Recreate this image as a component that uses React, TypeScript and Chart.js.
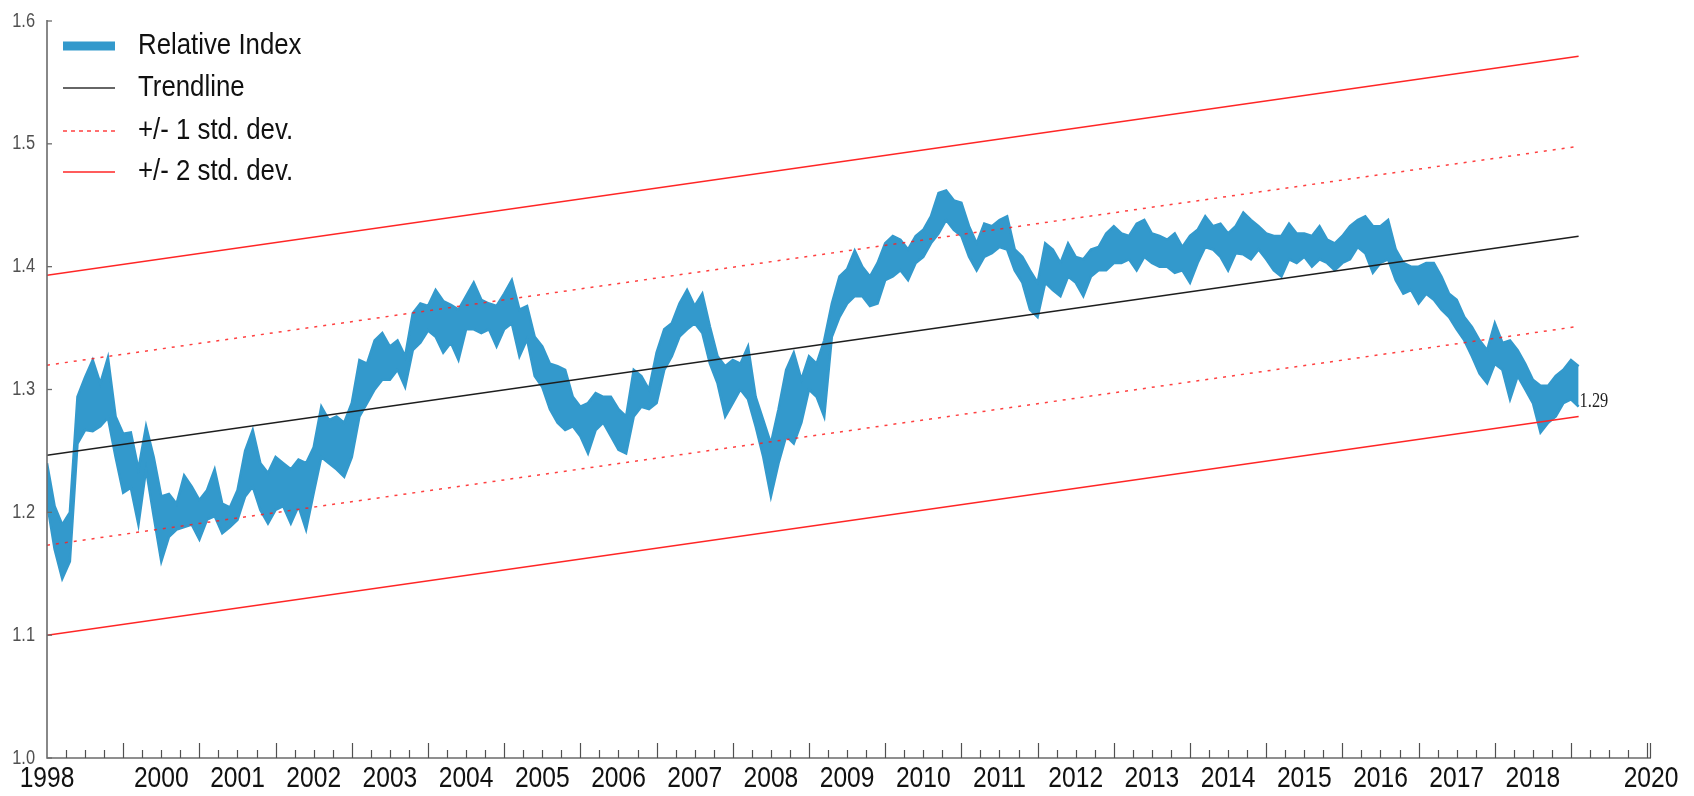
import React, { useEffect, useRef } from 'react';
import { Chart, registerables } from 'chart.js';

Chart.register(...registerables);

// ---- DATA ----
const START_YEAR = 1999;
const STEP_YEARS = 0.1;

// upper and lower envelope of the (daily, noisy) Relative Index band
const REL_HIGH = [
  1.240, 1.205, 1.190, 1.200, 1.294, 1.310, 1.324, 1.305, 1.326, 1.278,
  1.264, 1.265, 1.235, 1.270, 1.245, 1.213, 1.215, 1.207, 1.230, 1.221,
  1.210, 1.218, 1.235, 1.207, 1.204, 1.218, 1.250, 1.267, 1.240, 1.232,
  1.245, 1.240, 1.235, 1.243, 1.240, 1.253, 1.286, 1.275, 1.278, 1.273,
  1.289, 1.324, 1.321, 1.340, 1.346, 1.335, 1.340, 1.327, 1.362, 1.370,
  1.368, 1.381, 1.372, 1.369, 1.365, 1.376, 1.387, 1.373, 1.370, 1.368,
  1.378, 1.389, 1.365, 1.368, 1.343, 1.335, 1.321, 1.319, 1.316, 1.294,
  1.286, 1.289, 1.297, 1.294, 1.294, 1.284, 1.278, 1.316, 1.311, 1.300,
  1.330, 1.349, 1.354, 1.370, 1.381, 1.368, 1.378, 1.351, 1.327, 1.319,
  1.324, 1.321, 1.335, 1.294, 1.275, 1.256, 1.284, 1.316, 1.330, 1.308,
  1.327, 1.321, 1.340, 1.370, 1.392, 1.398, 1.413, 1.400, 1.392, 1.403,
  1.419, 1.425, 1.422, 1.414, 1.425, 1.430, 1.441, 1.460, 1.462, 1.454,
  1.452, 1.433, 1.419, 1.435, 1.433, 1.438, 1.441, 1.414, 1.408, 1.397,
  1.387, 1.419, 1.414, 1.403, 1.419, 1.408, 1.406, 1.414, 1.416, 1.427,
  1.433, 1.427, 1.425, 1.435, 1.438, 1.427, 1.425, 1.422, 1.427, 1.416,
  1.425, 1.430, 1.441, 1.433, 1.435, 1.427, 1.433, 1.444, 1.438, 1.433,
  1.427, 1.425, 1.425, 1.435, 1.427, 1.427, 1.425, 1.433, 1.422, 1.419,
  1.425, 1.433, 1.438, 1.441, 1.433, 1.433, 1.438, 1.414, 1.403, 1.400,
  1.400, 1.403, 1.403, 1.392, 1.378, 1.373, 1.359, 1.351, 1.340, 1.332,
  1.354, 1.338, 1.340, 1.332, 1.321, 1.308, 1.303, 1.303, 1.311, 1.316,
  1.324, 1.319,
];
const REL_LOW = [
  1.208, 1.170, 1.146, 1.160, 1.256, 1.267, 1.266, 1.270, 1.277, 1.245,
  1.216, 1.220, 1.190, 1.235, 1.197, 1.160, 1.180, 1.186, 1.188, 1.190,
  1.178, 1.194, 1.197, 1.183, 1.188, 1.194, 1.213, 1.221, 1.202, 1.191,
  1.202, 1.205, 1.191, 1.205, 1.186, 1.216, 1.245, 1.240, 1.235, 1.229,
  1.245, 1.278, 1.289, 1.300, 1.308, 1.308, 1.316, 1.302, 1.332, 1.338,
  1.348, 1.343, 1.330, 1.338, 1.324, 1.349, 1.349, 1.346, 1.349, 1.335,
  1.349, 1.354, 1.327, 1.341, 1.311, 1.302, 1.284, 1.273, 1.267, 1.270,
  1.262, 1.248, 1.267, 1.273, 1.262, 1.251, 1.248, 1.278, 1.286, 1.284,
  1.289, 1.316, 1.327, 1.343, 1.349, 1.354, 1.346, 1.321, 1.305, 1.278,
  1.289, 1.300, 1.292, 1.270, 1.245, 1.213, 1.240, 1.262, 1.256, 1.273,
  1.300, 1.294, 1.278, 1.343, 1.359, 1.370, 1.376, 1.376, 1.368, 1.370,
  1.389, 1.392, 1.397, 1.389, 1.403, 1.408, 1.419, 1.427, 1.438, 1.430,
  1.425, 1.408, 1.397, 1.408, 1.411, 1.416, 1.414, 1.397, 1.387, 1.365,
  1.359, 1.387, 1.381, 1.376, 1.392, 1.387, 1.376, 1.392, 1.397, 1.397,
  1.403, 1.403, 1.406, 1.397, 1.408, 1.403, 1.400, 1.400, 1.395, 1.397,
  1.387, 1.403, 1.416, 1.414, 1.408, 1.397, 1.411, 1.410, 1.406, 1.414,
  1.406, 1.397, 1.392, 1.406, 1.403, 1.408, 1.400, 1.406, 1.403, 1.397,
  1.403, 1.406, 1.416, 1.411, 1.395, 1.403, 1.406, 1.389, 1.378, 1.381,
  1.370, 1.378, 1.373, 1.365, 1.359, 1.349, 1.340, 1.327, 1.313, 1.305,
  1.321, 1.316, 1.292, 1.311, 1.300, 1.289, 1.265, 1.273, 1.278, 1.289,
  1.292, 1.286,
];

const TREND_X = [1999.0, 2019.1];
const TRENDLINE = [1.2465, 1.4247];
const PLUS_1SD = [1.3198, 1.498];
const MINUS_1SD = [1.1732, 1.3514];
const PLUS_2SD = [1.3931, 1.5713];
const MINUS_2SD = [1.0999, 1.2781];

const LAST_VALUE = 1.29;
const LAST_LABEL = '1.29';

const Y_TICKS = [1.0, 1.1, 1.2, 1.3, 1.4, 1.5, 1.6];
const Y_TICK_LABELS = ['1.0', '1.1', '1.2', '1.3', '1.4', '1.5', '1.6'];
const MID_YEAR_LABELS = [
  '2000', '2001', '2002', '2003', '2004', '2005', '2006', '2007', '2008', '2009',
  '2010', '2011', '2012', '2013', '2014', '2015', '2016', '2017', '2018',
];
const START_LABEL = '1998';
const END_LABEL = '2020';
const X_MIN = 1999.0;
const X_MAX = 2020.05;

const LEGEND_LABELS = ['Relative Index', 'Trendline', '+/- 1 std. dev.', '+/- 2 std. dev.'];

// ---- STYLE ----
const BLUE = '#3399cc';
const RED = '#ff2626';
const RED_DOT = 'rgba(255,30,30,0.85)';
const BLACK_LINE = '#1e1e1e';
const AXIS = '#6b6b6b';
const SANS = '"Liberation Sans", Arial, sans-serif';
const SERIF = '"Liberation Serif", "Times New Roman", serif';
const SQUEEZE = 0.82;

function drawText(
  ctx: CanvasRenderingContext2D,
  text: string,
  x: number,
  y: number,
  size: number,
  align: CanvasTextAlign,
  color: string,
  family: string = SANS,
  squeeze: number = SQUEEZE
) {
  ctx.save();
  ctx.font = `${size}px ${family}`;
  ctx.fillStyle = color;
  ctx.textBaseline = 'middle';
  ctx.textAlign = align;
  ctx.translate(x, y);
  ctx.scale(squeeze, 1);
  ctx.fillText(text, 0, 0);
  ctx.restore();
}

const decorPlugin = {
  id: 'decor',
  afterDatasetsDraw(chart: any) {
    const ctx: CanvasRenderingContext2D = chart.ctx;
    const xs = chart.scales.x;
    const ys = chart.scales.y;
    const left = xs.getPixelForValue(X_MIN);
    const right = xs.getPixelForValue(X_MAX);
    const bottom = ys.getPixelForValue(1.0);
    const top = ys.getPixelForValue(1.6);

    ctx.save();
    // axes
    ctx.strokeStyle = AXIS;
    ctx.lineWidth = 1.6;
    ctx.beginPath();
    ctx.moveTo(left, top - 1);
    ctx.lineTo(left, bottom);
    ctx.lineTo(right, bottom);
    ctx.stroke();

    // y ticks + labels
    ctx.lineWidth = 1.3;
    Y_TICKS.forEach((v, i) => {
      const y = ys.getPixelForValue(v);
      ctx.beginPath();
      ctx.moveTo(left, y);
      ctx.lineTo(left + 5, y);
      ctx.stroke();
      drawText(ctx, Y_TICK_LABELS[i], left - 12, y, 20, 'right', '#505050');
    });

    // x ticks: quarterly minor, yearly major
    ctx.strokeStyle = '#505050';
    ctx.lineWidth = 1.2;
    const nQuarters = Math.floor((X_MAX - X_MIN) * 4 + 1e-6);
    for (let q = 1; q <= nQuarters; q++) {
      const t = X_MIN + q / 4;
      const x = Math.round(xs.getPixelForValue(t)) + 0.5;
      const len = q % 4 === 0 ? 15 : 8;
      ctx.beginPath();
      ctx.moveTo(x, bottom);
      ctx.lineTo(x, bottom - len);
      ctx.stroke();
    }
    const xe = Math.round(right) - 0.5;
    ctx.beginPath();
    ctx.moveTo(xe, bottom);
    ctx.lineTo(xe, bottom - 15);
    ctx.stroke();

    // x labels
    const labelY = 779;
    drawText(ctx, START_LABEL, left, labelY, 30, 'center', '#111');
    MID_YEAR_LABELS.forEach((lab) => {
      const yr = parseInt(lab, 10) + 0.5;
      drawText(ctx, lab, xs.getPixelForValue(yr), labelY, 30, 'center', '#111');
    });
    drawText(ctx, END_LABEL, right, labelY, 30, 'center', '#111');

    // last value label
    const lx = xs.getPixelForValue(TREND_X[1]) + 1;
    const ly = ys.getPixelForValue(LAST_VALUE);
    drawText(ctx, LAST_LABEL, lx, ly, 21, 'left', '#222', SERIF, 0.78);

    // legend
    const lgX1 = 63;
    const lgX2 = 115;
    const lgText = 138;
    const rows = [46, 88, 131, 172];
    // Relative Index
    ctx.lineCap = 'butt';
    ctx.strokeStyle = BLUE;
    ctx.lineWidth = 9;
    ctx.beginPath();
    ctx.moveTo(lgX1, rows[0]);
    ctx.lineTo(lgX2, rows[0]);
    ctx.stroke();
    // Trendline
    ctx.strokeStyle = '#333';
    ctx.lineWidth = 1.5;
    ctx.beginPath();
    ctx.moveTo(lgX1, rows[1]);
    ctx.lineTo(lgX2, rows[1]);
    ctx.stroke();
    // 1 sd
    ctx.strokeStyle = RED_DOT;
    ctx.setLineDash([4, 4]);
    ctx.beginPath();
    ctx.moveTo(lgX1, rows[2]);
    ctx.lineTo(lgX2, rows[2]);
    ctx.stroke();
    ctx.setLineDash([]);
    // 2 sd
    ctx.strokeStyle = RED;
    ctx.beginPath();
    ctx.moveTo(lgX1, rows[3]);
    ctx.lineTo(lgX2, rows[3]);
    ctx.stroke();
    LEGEND_LABELS.forEach((lab, i) => {
      drawText(ctx, lab, lgText, rows[i], 30, 'left', '#111', SANS, 0.86);
    });
    ctx.restore();
  },
};

function pairs(xsArr: number[], ysArr: number[]) {
  return ysArr.map((y, i) => ({ x: xsArr[i], y }));
}

export default function App() {
  const ref = useRef<HTMLCanvasElement | null>(null);

  useEffect(() => {
    if (!ref.current) return;
    const dates = REL_HIGH.map((_, i) => START_YEAR + i * STEP_YEARS);
    const lineDs = (label: string, ys: number[], color: string, dash: number[] = []) => ({
      label,
      data: pairs(TREND_X, ys),
      borderColor: color,
      borderWidth: 1.5,
      borderDash: dash,
      pointRadius: 0,
      fill: false,
      tension: 0,
    });
    const chart = new Chart(ref.current, {
      type: 'line',
      data: {
        datasets: [
          lineDs('Trendline', TRENDLINE, BLACK_LINE),
          lineDs('+1 std. dev.', PLUS_1SD, RED_DOT, [3, 6]),
          lineDs('-1 std. dev.', MINUS_1SD, RED_DOT, [3, 6]),
          lineDs('+2 std. dev.', PLUS_2SD, RED),
          lineDs('-2 std. dev.', MINUS_2SD, RED),
          {
            label: 'Relative Index (high)',
            data: pairs(dates, REL_HIGH),
            borderColor: BLUE,
            borderWidth: 2.5,
            pointRadius: 0,
            fill: false,
            tension: 0,
          },
          {
            label: 'Relative Index (low)',
            data: pairs(dates, REL_LOW),
            borderColor: BLUE,
            backgroundColor: BLUE,
            borderWidth: 2.5,
            pointRadius: 0,
            fill: '-1',
            tension: 0,
          },
        ],
      },
      options: {
        responsive: false,
        animation: false,
        devicePixelRatio: 1,
        layout: { padding: { left: 47, right: 43, top: 21, bottom: 38 } },
        plugins: { legend: { display: false }, tooltip: { enabled: false } },
        scales: {
          x: { type: 'linear', min: X_MIN, max: X_MAX, display: false },
          y: { type: 'linear', min: 1.0, max: 1.6, display: false },
        },
      },
      plugins: [decorPlugin],
    });
    return () => chart.destroy();
  }, []);

  return (
    <div style={{ position: 'fixed', left: 0, top: 0, width: 1694, height: 796, background: '#fff' }}>
      <canvas ref={ref} width={1694} height={796} />
    </div>
  );
}
